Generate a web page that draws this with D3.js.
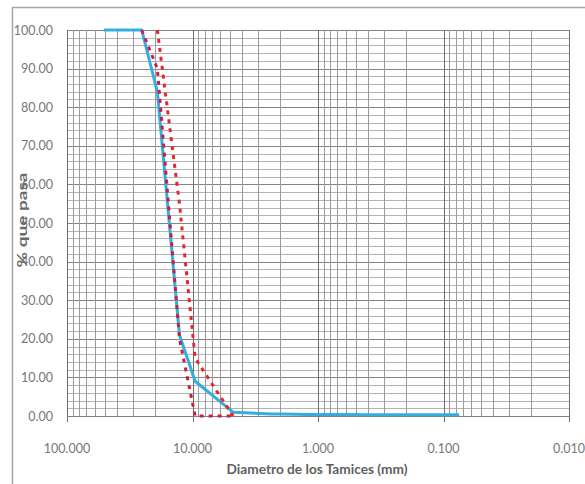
<!DOCTYPE html>
<html>
<head>
<meta charset="utf-8">
<script src="https://cdn.jsdelivr.net/npm/d3@7"></script>
<style>
  html, body { margin: 0; padding: 0; background: #fff; }
  svg { display: block; }
</style>
</head>
<body>
<svg id="chart" width="585" height="484"></svg>
<script>
// Sieve openings (mm) and cumulative percent passing of the sample
const sieveSizes = [50.8, 38.1, 25.4, 19.05, 12.7, 9.525, 4.75, 2.36, 2.0, 1.18, 0.6, 0.425, 0.3, 0.15, 0.075];
const passing    = [100, 100, 100, 84, 21, 9, 1, 0.5, 0.5, 0.4, 0.4, 0.3, 0.3, 0.3, 0.3];

// Gradation band limits
const limitSizes = [25.4, 19.05, 12.7, 9.525, 4.75];
const lowerLimit = [100, 90, 20, 0, 0];
const upperSizes = [19.05, 12.7, 9.525, 4.75];
const upperLimit = [100, 55, 15, 0];

// Axis ticks
const xTicks = [100, 10, 1, 0.1, 0.01];
const yTicks = [0, 10, 20, 30, 40, 50, 60, 70, 80, 90, 100];

const svg = d3.select("#chart");
const W = 585, H = 484;
const plot = { left: 67, right: 569, top: 30, bottom: 416 };

// outer chart frame
svg.append("rect")
  .attr("x", 12.5).attr("y", 7.5)
  .attr("width", W).attr("height", H)
  .attr("fill", "none").attr("stroke", "#a6a6a6").attr("stroke-width", 1.5);

const x = d3.scaleLog().domain([100, 0.01]).range([plot.left, plot.right]);
const y = d3.scaleLinear().domain([0, 100]).range([plot.bottom, plot.top]);

const grid = svg.append("g");

// horizontal grid: every 2 %, darker every 10 %
const yMinor = d3.range(0, 101, 2);
grid.selectAll("line.hmin").data(yMinor).join("line")
  .attr("x1", plot.left).attr("x2", plot.right)
  .attr("y1", d => Math.round(y(d)) + 0.5).attr("y2", d => Math.round(y(d)) + 0.5)
  .attr("stroke", d => d % 10 === 0 ? "#858585" : "#b4b4b4")
  .attr("stroke-width", 1);

// vertical log grid: 2..9 within each decade, darker at decades
const xMinor = [];
[10, 1, 0.1, 0.01].forEach(base => {
  for (let k = 2; k <= 9; k++) xMinor.push(base * k);
});
grid.selectAll("line.vmin").data(xMinor).join("line")
  .attr("y1", plot.top).attr("y2", plot.bottom)
  .attr("x1", d => Math.round(x(d)) + 0.5).attr("x2", d => Math.round(x(d)) + 0.5)
  .attr("stroke", "#9c9c9c").attr("stroke-width", 1);
grid.selectAll("line.vmaj").data(xTicks).join("line")
  .attr("y1", plot.top).attr("y2", plot.bottom + 6)
  .attr("x1", d => Math.round(x(d)) + 0.5).attr("x2", d => Math.round(x(d)) + 0.5)
  .attr("stroke", "#6e6e6e").attr("stroke-width", 1);

// bottom axis line
grid.append("line")
  .attr("x1", plot.left).attr("x2", plot.right)
  .attr("y1", plot.bottom + 0.5).attr("y2", plot.bottom + 0.5)
  .attr("stroke", "#808080");

// tick labels
const labelFont = "Lato, 'Liberation Sans', sans-serif";
svg.append("g").selectAll("text").data(yTicks).join("text")
  .attr("x", 53).attr("y", d => y(d) + 4.5)
  .attr("text-anchor", "end")
  .attr("font-family", labelFont).attr("font-size", 12.5)
  .attr("fill", "#777")
  .text(d => d3.format(".2f")(d));

svg.append("g").selectAll("text").data(xTicks).join("text")
  .attr("x", d => x(d)).attr("y", 453)
  .attr("text-anchor", "middle")
  .attr("font-family", labelFont).attr("font-size", 12.5)
  .attr("fill", "#777")
  .text(d => d3.format(".3f")(d));

// axis titles
svg.append("text")
  .attr("x", 317).attr("y", 474)
  .attr("text-anchor", "middle")
  .attr("font-family", labelFont).attr("font-size", 13).attr("font-weight", "bold")
  .attr("fill", "#606060")
  .attr("textLength", 181).attr("lengthAdjust", "spacingAndGlyphs")
  .text("Diametro de los Tamices (mm)");

svg.append("text")
  .attr("transform", "translate(27,220) rotate(-90)")
  .attr("text-anchor", "middle")
  .attr("font-family", labelFont).attr("font-size", 12.5).attr("font-weight", "bold")
  .attr("fill", "#6a6a6a")
  .attr("textLength", 95).attr("lengthAdjust", "spacingAndGlyphs")
  .text("% que pasa");

// curves
const line = d3.line().x(d => x(d[0])).y(d => y(d[1]));

svg.append("path")
  .datum(d3.zip(sieveSizes, passing))
  .attr("d", line)
  .attr("fill", "none")
  .attr("stroke", "#34ade0")
  .attr("stroke-width", 3)
  .attr("stroke-linejoin", "round");

svg.append("path")
  .datum(d3.zip(limitSizes, lowerLimit))
  .attr("d", line)
  .attr("fill", "none")
  .attr("stroke", "#c8203e")
  .attr("stroke-width", 3)
  .attr("stroke-dasharray", "4 5");

svg.append("path")
  .datum(d3.zip(upperSizes, upperLimit))
  .attr("d", line)
  .attr("fill", "none")
  .attr("stroke", "#e5262b")
  .attr("stroke-width", 3)
  .attr("stroke-dasharray", "4 5");
</script>
</body>
</html>
